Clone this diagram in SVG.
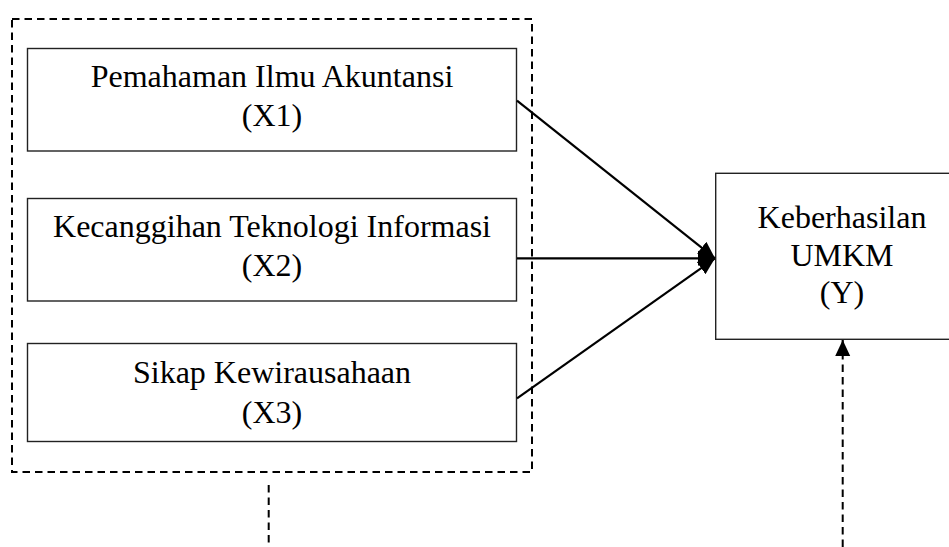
<svg xmlns="http://www.w3.org/2000/svg" width="949" height="547" viewBox="0 0 949 547">
  <style>
    .box { fill: #ffffff; stroke: #222222; stroke-width: 1.4; }
    .dash { fill: none; stroke: #000000; stroke-width: 2; stroke-dasharray: 7.5 5; }
    .conn { fill: none; stroke: #000000; stroke-width: 2.2; }
    .lbl { font-family: "Liberation Serif", "Times New Roman", serif; font-size: 32px; fill: #000000; text-anchor: middle; }
  </style>
  <defs>
    <marker id="head" markerUnits="userSpaceOnUse" markerWidth="18" markerHeight="18" viewBox="0 0 18 18" refX="17" refY="9" orient="auto">
      <path d="M0,1.5 L17,9 L0,16.5 Z" fill="#000000"/>
    </marker>
    <marker id="headUp" markerUnits="userSpaceOnUse" markerWidth="18" markerHeight="18" viewBox="0 0 18 18" refX="16" refY="9" orient="auto">
      <path d="M0,1.5 L16,9 L0,16.5 Z" fill="#000000"/>
    </marker>
  </defs>
  <rect width="949" height="547" fill="#ffffff"/>

  <g id="group-x">
    <rect x="12" y="19" width="520" height="453" class="dash"/>
  </g>

  <g id="x1">
    <rect x="27.5" y="48.5" width="489" height="102.5" class="box"/>
    <text class="lbl" x="272" y="87">Pemahaman Ilmu Akuntansi</text>
    <text class="lbl" x="272" y="126">(X1)</text>
  </g>

  <g id="x2">
    <rect x="27.5" y="198.5" width="489" height="102.5" class="box"/>
    <text class="lbl" x="272" y="237">Kecanggihan Teknologi Informasi</text>
    <text class="lbl" x="272" y="276">(X2)</text>
  </g>

  <g id="x3">
    <rect x="27.5" y="343.5" width="489" height="98" class="box"/>
    <text class="lbl" x="272" y="383">Sikap Kewirausahaan</text>
    <text class="lbl" x="272" y="423">(X3)</text>
  </g>

  <g id="y">
    <rect x="715.7" y="173.3" width="260" height="166" class="box"/>
    <text class="lbl" x="842" y="228">Keberhasilan</text>
    <text class="lbl" x="842" y="266">UMKM</text>
    <text class="lbl" x="842" y="303">(Y)</text>
  </g>

  <g id="connectors">
    <line x1="517" y1="100.7" x2="715" y2="258.3" class="conn" marker-end="url(#head)"/>
    <line x1="517" y1="258.3" x2="715" y2="258.3" class="conn" marker-end="url(#head)"/>
    <line x1="517" y1="398.3" x2="715" y2="258.3" class="conn" marker-end="url(#head)"/>
    <line x1="268.7" y1="485" x2="268.7" y2="547" class="dash"/>
    <line x1="842.7" y1="547" x2="842.7" y2="354" class="dash"/>
    <line x1="842.7" y1="356" x2="842.7" y2="340" class="conn" marker-end="url(#headUp)"/>
  </g>
</svg>
